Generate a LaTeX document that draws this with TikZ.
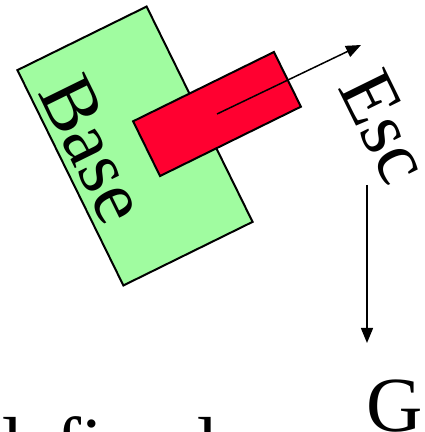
\documentclass[tikz,border=0pt]{standalone}
\usepackage{fontspec}
\setmainfont{Liberation Serif}
\usetikzlibrary{arrows.meta,positioning,calc}
\definecolor{basegreen}{HTML}{A0FCA0}
\definecolor{tipred}{HTML}{FF0030}
\definecolor{text}{HTML}{000000}
\tikzset{
  block/.style={draw=text, line width=2pt, inner sep=0pt, rotate=26.2},
  arrow/.style={-{Triangle[length=15pt,width=12pt]}, line width=1.5pt, draw=text},
  label/.style={inner sep=0pt, font=\fontsize{78}{90}\selectfont, text=text}
}
\begin{document}
\begin{tikzpicture}[x=1pt,y=1pt]
    \useasboundingbox (0,0) rectangle (425,432);
    \clip (0,0) rectangle (425,432);
    % rotated frame
    \node[block,fill=basegreen,minimum width=144pt,minimum height=240pt] (base) at (135,286) {};
    \node[block,fill=tipred,minimum width=157pt,minimum height=61pt] (tip) at (217,318) {};
    \node[label,rotate=-63.8] (basetxt) at (94,283) {Base};
    \coordinate (tipend) at (361,387);
    \draw[arrow] (tip.center) -- (tipend);
    \node[label,rotate=-63.8] (esc) at (385,305) {Esc};

    % vertical arrow to G
    \coordinate (gstart) at (367,247);
    \coordinate (gend) at (367,89);
    \draw[arrow] (gstart) -- (gend);
    \node[label,anchor=base west] (g) at (366,1) {G};
    \node[label,anchor=base west] (defd) at (-18,-39) {defined};
  \end{tikzpicture}
\end{document}
